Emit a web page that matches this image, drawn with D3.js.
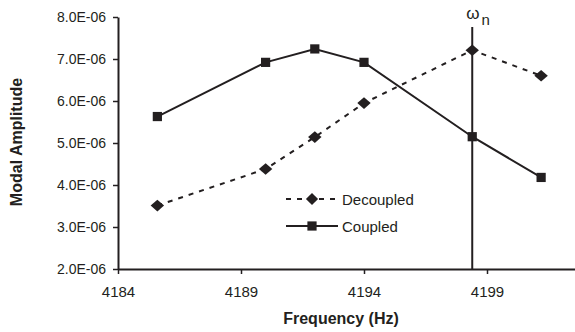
<!DOCTYPE html>
<html>
<head>
<meta charset="utf-8">
<script src="https://cdn.jsdelivr.net/npm/d3@7"></script>
<style>
  body { margin: 0; background: #fff; }
  text { font-family: "Liberation Sans", Arial, sans-serif; fill: #231f20; }
</style>
</head>
<body>
<div id="chart"></div>
<script>
// values
var freqs = [4185.6, 4190, 4192, 4194, 4198.4, 4201.2];
var decoupled = [3.51e-6, 4.38e-6, 5.14e-6, 5.95e-6, 7.21e-6, 6.6e-6];
var coupled = [5.63e-6, 6.92e-6, 7.24e-6, 6.92e-6, 5.15e-6, 4.18e-6];
var xTicks = [4184, 4189, 4194, 4199];
var yTicks = [2e-6, 3e-6, 4e-6, 5e-6, 6e-6, 7e-6, 8e-6];
var omegaN = 4198.4;

var svgWidth = 575, svgHeight = 332;
var margin = { top: 17, right: 0, bottom: 63, left: 118 };
var chartWidth = svgWidth - margin.left - margin.right;
var chartHeight = svgHeight - margin.top - margin.bottom;
var ink = "#231f20";

var svg = d3.select("#chart").append("svg")
  .attr("width", svgWidth)
  .attr("height", svgHeight);

var chartGroup = svg.append("g")
  .attr("transform", `translate(${margin.left}, ${margin.top})`);

var xScale = d3.scaleLinear()
  .domain([4184, 4184 + chartWidth / 24.6])
  .range([0, chartWidth]);

var yScale = d3.scaleLinear()
  .domain([2e-6, 8e-6])
  .range([chartHeight, 0]);

var leftAxis = d3.axisLeft(yScale)
  .tickValues(yTicks)
  .tickSize(5).tickSizeOuter(0).tickPadding(7)
  .tickFormat(d => (d * 1e6).toFixed(1) + "E-06");

var bottomAxis = d3.axisBottom(xScale)
  .tickValues(xTicks)
  .tickSize(5).tickSizeOuter(0).tickPadding(12)
  .tickFormat(d3.format("d"));

var gy = chartGroup.append("g").call(leftAxis);
var gx = chartGroup.append("g")
  .attr("transform", "translate(0," + chartHeight + ")")
  .call(bottomAxis);

[gx, gy].forEach(function(g) {
  g.select(".domain").attr("stroke", ink).attr("stroke-width", 2);
  g.selectAll(".tick line").attr("stroke", ink).attr("stroke-width", 1.5);
  g.selectAll(".tick text")
    .attr("font-family", "Liberation Sans, Arial, sans-serif")
    .attr("fill", ink);
});
gy.selectAll(".tick text").attr("font-size", 14);
gx.selectAll(".tick text").attr("font-size", 15);

// natural frequency marker
chartGroup.append("line")
  .attr("x1", xScale(omegaN)).attr("x2", xScale(omegaN))
  .attr("y1", 10).attr("y2", chartHeight)
  .attr("stroke", ink).attr("stroke-width", 2);

var omegaLabel = chartGroup.append("text")
  .attr("x", xScale(omegaN) - 6)
  .attr("y", 2)
  .attr("font-size", 17);
omegaLabel.append("tspan").text("\u03c9");
omegaLabel.append("tspan").attr("dy", 6).attr("dx", 2).attr("font-size", 15).text("n");

var line = d3.line()
  .x((d, i) => xScale(freqs[i]))
  .y(d => yScale(d));

chartGroup.append("path")
  .datum(decoupled)
  .attr("d", line)
  .attr("fill", "none")
  .attr("stroke", ink)
  .attr("stroke-width", 2)
  .attr("stroke-dasharray", "5,6");

chartGroup.append("path")
  .datum(coupled)
  .attr("d", line)
  .attr("fill", "none")
  .attr("stroke", ink)
  .attr("stroke-width", 2);

var diamond = d3.symbol().type(d3.symbolDiamond2).size(95);
var square = d3.symbol().type(d3.symbolSquare).size(85);

chartGroup.selectAll(".dia")
  .data(decoupled)
  .enter().append("path")
  .attr("class", "dia")
  .attr("d", diamond)
  .attr("transform", (d, i) => `translate(${xScale(freqs[i])},${yScale(d)}) scale(1.1,0.95)`)
  .attr("fill", ink);

chartGroup.selectAll(".sq")
  .data(coupled)
  .enter().append("path")
  .attr("class", "sq")
  .attr("d", square)
  .attr("transform", (d, i) => `translate(${xScale(freqs[i])},${yScale(d)})`)
  .attr("fill", ink);

// legend
var legend = svg.append("g");
var legendItems = [
  { name: "Decoupled", dash: "5,6", sym: diamond, y: 199 },
  { name: "Coupled", dash: null, sym: square, y: 226 }
];
legendItems.forEach(function(item) {
  legend.append("line")
    .attr("x1", 286).attr("x2", 338)
    .attr("y1", item.y).attr("y2", item.y)
    .attr("stroke", ink).attr("stroke-width", 2)
    .attr("stroke-dasharray", item.dash);
  legend.append("path")
    .attr("d", item.sym)
    .attr("transform", `translate(312,${item.y})`)
    .attr("fill", ink);
  legend.append("text")
    .attr("x", 342).attr("y", item.y + 5.5)
    .attr("font-size", 15)
    .text(item.name);
});

// axis titles
svg.append("text")
  .attr("x", 341).attr("y", 324)
  .attr("text-anchor", "middle")
  .attr("font-size", 16).attr("font-weight", "bold")
  .text("Frequency (Hz)");

svg.append("text")
  .attr("transform", "translate(22,142) rotate(-90)")
  .attr("text-anchor", "middle")
  .attr("font-size", 16).attr("font-weight", "bold")
  .text("Modal Amplitude");
</script>
</body>
</html>
